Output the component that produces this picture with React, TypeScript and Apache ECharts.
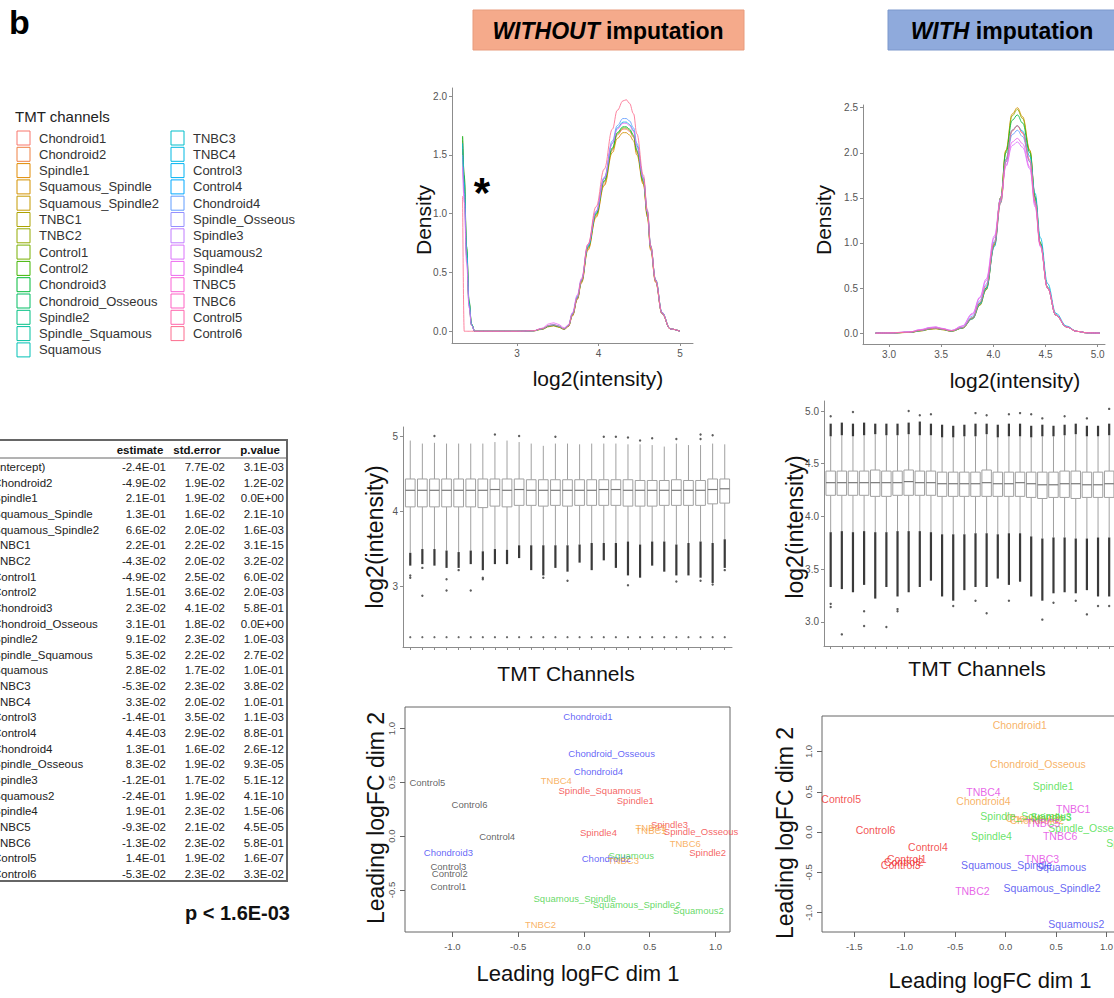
import React, { useEffect, useRef } from "react";
import * as echarts from "echarts";

const FONT = "'Liberation Sans', Arial, Helvetica, sans-serif";
const NARROW = "'Liberation Sans Narrow', 'Arial Narrow', 'Liberation Sans', Arial, sans-serif";

// ---------- channels / legend ----------
const channels = ["Chondroid1","Chondroid2","Spindle1","Squamous_Spindle","Squamous_Spindle2","TNBC1","TNBC2","Control1","Control2","Chondroid3","Chondroid_Osseous","Spindle2","Spindle_Squamous","Squamous","TNBC3","TNBC4","Control3","Control4","Chondroid4","Spindle_Osseous","Spindle3","Squamous2","Spindle4","TNBC5","TNBC6","Control5","Control6"];
const channelColors = ["#F8766D","#EE8044","#E18A00","#D39200","#C49A00","#ACA200","#93AA00","#77AF00","#40B500","#00BA38","#00BD62","#00C082","#00C19F","#00C0B5","#00BECB","#00B9E3","#00B2F3","#00A8FF","#619CFF","#9590FF","#C07DFF","#DB72FB","#EC69EF","#FA62D6","#FF61C3","#FF65AC","#FC6D8E"];

// ---------- regression table ----------
const tableTerms = ["(Intercept)","Chondroid2","Spindle1","Squamous_Spindle","Squamous_Spindle2","TNBC1","TNBC2","Control1","Control2","Chondroid3","Chondroid_Osseous","Spindle2","Spindle_Squamous","Squamous","TNBC3","TNBC4","Control3","Control4","Chondroid4","Spindle_Osseous","Spindle3","Squamous2","Spindle4","TNBC5","TNBC6","Control5","Control6"];
const tableEstimate = ["-2.4E-01","-4.9E-02","2.1E-01","1.3E-01","6.6E-02","2.2E-01","-4.3E-02","-4.9E-02","1.5E-01","2.3E-02","3.1E-01","9.1E-02","5.3E-02","2.8E-02","-5.3E-02","3.3E-02","-1.4E-01","4.4E-03","1.3E-01","8.3E-02","-1.2E-01","-2.4E-01","1.9E-01","-9.3E-02","-1.3E-02","1.4E-01","-5.3E-02"];
const tableStdError = ["7.7E-02","1.9E-02","1.9E-02","1.6E-02","2.0E-02","2.2E-02","2.0E-02","2.5E-02","3.6E-02","4.1E-02","1.8E-02","2.3E-02","2.2E-02","1.7E-02","2.3E-02","2.0E-02","3.5E-02","2.9E-02","1.6E-02","1.9E-02","1.7E-02","1.9E-02","2.3E-02","2.1E-02","2.3E-02","1.9E-02","2.3E-02"];
const tablePValue = ["3.1E-03","1.2E-02","0.0E+00","2.1E-10","1.6E-03","3.1E-15","3.2E-02","6.0E-02","2.0E-03","5.8E-01","0.0E+00","1.0E-03","2.7E-02","1.0E-01","3.8E-02","1.0E-01","1.1E-03","8.8E-01","2.6E-12","9.3E-05","5.1E-12","4.1E-10","1.5E-06","4.5E-05","5.8E-01","1.6E-07","3.3E-02"];

// ---------- density WITHOUT imputation ----------
const densXNo = [2.33,2.35,2.38,2.41,2.44,2.48,2.7,3.0,3.2,3.3,3.4,3.45,3.5,3.58,3.63,3.68,3.74,3.79,3.87,3.97,4.07,4.17,4.23,4.3,4.34,4.38,4.43,4.47,4.55,4.6,4.64,4.7,4.78,4.88,5.0];
const densNoChondroid1 = [1.62,1.28,0.68,0.24,0.06,0,0,0,0.004,0.02,0.045,0.05,0.04,0.02,0.045,0.14,0.28,0.42,0.7,0.98,1.25,1.54,1.67,1.72,1.72,1.7,1.65,1.52,1.26,0.98,0.7,0.42,0.15,0.02,0];
const densNoSquamousSpindle = [1.55,1.2,0.64,0.22,0.05,0,0,0,0.003,0.015,0.04,0.045,0.035,0.015,0.04,0.13,0.27,0.41,0.69,0.97,1.24,1.52,1.64,1.69,1.69,1.67,1.62,1.5,1.25,0.97,0.69,0.42,0.15,0.02,0];
const densNoTNBC2 = [1.66,1.32,0.7,0.25,0.06,0,0,0,0.004,0.018,0.045,0.05,0.04,0.018,0.045,0.14,0.28,0.42,0.71,0.99,1.27,1.55,1.68,1.73,1.73,1.71,1.66,1.53,1.27,0.99,0.71,0.43,0.15,0.02,0];
const densNoChondroid3 = [1.66,1.33,0.72,0.26,0.06,0,0,0,0.004,0.018,0.045,0.05,0.04,0.02,0.045,0.14,0.28,0.43,0.72,1.0,1.28,1.56,1.69,1.74,1.74,1.72,1.67,1.54,1.28,1.0,0.72,0.44,0.16,0.02,0];
const densNoTNBC4 = [1.6,1.27,0.68,0.24,0.06,0,0,0,0.004,0.02,0.05,0.055,0.045,0.02,0.05,0.15,0.29,0.43,0.72,1.01,1.3,1.6,1.73,1.78,1.78,1.76,1.71,1.58,1.3,1.02,0.73,0.44,0.16,0.02,0];
const densNoChondroid4 = [1.5,1.18,0.63,0.22,0.05,0,0,0,0.004,0.02,0.05,0.058,0.047,0.022,0.05,0.15,0.3,0.44,0.73,1.02,1.31,1.62,1.75,1.81,1.81,1.79,1.73,1.6,1.31,1.02,0.72,0.43,0.15,0.02,0];
const densNoSpindle4 = [1.4,1.1,0.58,0.2,0.05,0,0,0,0.005,0.025,0.065,0.072,0.06,0.03,0.055,0.16,0.31,0.45,0.74,1.02,1.3,1.6,1.72,1.77,1.77,1.75,1.7,1.57,1.3,1.01,0.72,0.44,0.16,0.02,0];
const densNoControl6 = [1.15,0,0,0,0,0,0,0,0.004,0.02,0.05,0.055,0.045,0.02,0.045,0.14,0.28,0.43,0.74,1.06,1.38,1.72,1.88,1.96,1.97,1.94,1.85,1.68,1.33,1.03,0.73,0.43,0.15,0.02,0];

// ---------- density WITH imputation ----------
const densXWith = [2.87,3.0,3.2,3.3,3.4,3.45,3.5,3.6,3.7,3.8,3.87,3.93,4.01,4.07,4.12,4.18,4.23,4.28,4.35,4.4,4.45,4.52,4.6,4.7,4.8,4.9,5.02];
const densWChondroid1 = [0,0.002,0.01,0.03,0.05,0.055,0.045,0.025,0.06,0.17,0.33,0.5,0.97,1.44,1.9,2.24,2.3,2.22,1.9,1.44,0.98,0.5,0.2,0.07,0.02,0.004,0];
const densWSquamousSpindle = [0,0.002,0.008,0.025,0.045,0.05,0.04,0.022,0.055,0.16,0.31,0.48,0.98,1.5,2.03,2.43,2.5,2.4,2.03,1.52,1.0,0.5,0.2,0.07,0.02,0.004,0];
const densWTNBC2 = [0,0.002,0.008,0.025,0.045,0.05,0.04,0.022,0.055,0.16,0.31,0.48,0.98,1.5,2.02,2.41,2.48,2.38,2.02,1.51,1.0,0.5,0.2,0.07,0.02,0.004,0];
const densWChondroid3 = [0,0.002,0.01,0.028,0.05,0.055,0.045,0.024,0.058,0.17,0.33,0.5,1.0,1.5,2.0,2.36,2.42,2.33,2.0,1.5,1.0,0.51,0.2,0.07,0.02,0.004,0];
const densWTNBC4 = [0,0.002,0.01,0.028,0.05,0.055,0.045,0.024,0.058,0.16,0.32,0.49,0.96,1.45,1.93,2.25,2.3,2.24,1.96,1.55,1.06,0.55,0.22,0.08,0.02,0.004,0];
const densWChondroid4 = [0,0.002,0.012,0.032,0.055,0.06,0.05,0.028,0.065,0.19,0.36,0.54,1.02,1.48,1.9,2.2,2.25,2.18,1.9,1.46,0.98,0.5,0.2,0.07,0.02,0.004,0];
const densWSquamous2 = [0,0.003,0.015,0.04,0.065,0.07,0.055,0.03,0.08,0.22,0.4,0.6,1.08,1.5,1.85,2.08,2.12,2.06,1.82,1.4,0.96,0.5,0.2,0.07,0.02,0.004,0];
const densWSpindle4 = [0,0.003,0.014,0.038,0.062,0.068,0.053,0.03,0.078,0.21,0.39,0.58,1.06,1.48,1.86,2.12,2.16,2.1,1.84,1.42,0.97,0.5,0.2,0.07,0.02,0.004,0];
const densWControl6 = [0,0.002,0.01,0.03,0.05,0.055,0.045,0.025,0.06,0.17,0.34,0.52,1.0,1.46,1.92,2.25,2.3,2.22,1.92,1.46,0.98,0.5,0.2,0.07,0.02,0.004,0];

// ---------- boxplots WITHOUT imputation ----------
const q1No = [4.06,4.06,4.06,4.06,4.06,4.06,4.05,4.07,4.06,4.08,4.08,4.07,4.08,4.07,4.08,4.08,4.08,4.08,4.07,4.07,4.07,4.08,4.08,4.08,4.08,4.1,4.11];
const medNo = [4.28,4.28,4.28,4.28,4.28,4.28,4.28,4.29,4.28,4.29,4.28,4.28,4.28,4.28,4.28,4.28,4.29,4.29,4.28,4.28,4.28,4.28,4.28,4.28,4.28,4.29,4.3];
const q3No = [4.43,4.43,4.43,4.43,4.43,4.43,4.43,4.43,4.43,4.43,4.42,4.42,4.42,4.42,4.42,4.42,4.42,4.42,4.42,4.41,4.41,4.41,4.42,4.41,4.41,4.43,4.43];
const whiskHiNo = [4.94,4.9,4.91,4.9,4.9,4.9,4.9,4.92,4.94,4.92,4.9,4.87,4.9,4.9,4.89,4.9,4.9,4.9,4.89,4.89,4.88,4.86,4.9,4.88,4.88,4.9,4.89];
const whiskLoNo = [3.45,3.5,3.5,3.48,3.46,3.48,3.47,3.5,3.49,3.55,3.55,3.55,3.55,3.55,3.56,3.58,3.58,3.58,3.6,3.56,3.6,3.6,3.56,3.58,3.6,3.58,3.63];
const bandLoNo = [3.28,3.3,3.28,3.25,3.25,3.3,3.22,3.3,3.3,3.38,3.22,3.15,3.25,3.2,3.32,3.22,3.35,3.25,3.15,3.12,3.28,3.2,3.15,3.15,3.12,3.05,3.25];
const floorNo = [2.33,2.33,2.33,2.33,2.33,2.33,2.33,2.33,2.33,2.33,2.33,2.33,2.33,2.33,2.33,2.33,2.33,2.33,2.33,2.33,2.33,2.33,2.33,2.33,2.33,2.33,2.33];
const outlierIdxNo = [1,1,2,2,4,4,5,6,7,7,12,14,19,23,25,26,27,3,8,10,13,17,18,19,20,21,25,25,26,23];
const outlierValNo = [3.15,3.12,3.25,2.88,3.1,2.95,3.22,2.95,3.12,3.1,3.12,3.08,3.02,3.07,3.08,3.03,3.22,5.0,5.02,5.0,4.99,4.99,4.99,4.98,4.94,4.97,5.02,4.96,5.01,4.96];

// ---------- boxplots WITH imputation ----------
const q1W = [4.2,4.2,4.2,4.2,4.19,4.19,4.2,4.2,4.2,4.2,4.19,4.19,4.19,4.19,4.19,4.19,4.19,4.19,4.18,4.17,4.18,4.18,4.17,4.18,4.18,4.18,4.18];
const medW = [4.32,4.32,4.32,4.32,4.32,4.32,4.32,4.33,4.32,4.32,4.31,4.31,4.31,4.31,4.32,4.31,4.31,4.32,4.31,4.3,4.3,4.31,4.31,4.3,4.3,4.31,4.31];
const q3W = [4.43,4.43,4.43,4.43,4.44,4.43,4.43,4.44,4.43,4.43,4.42,4.42,4.42,4.42,4.44,4.42,4.42,4.42,4.42,4.42,4.42,4.43,4.43,4.42,4.42,4.43,4.43];
const whiskHiW = [4.76,4.77,4.76,4.77,4.78,4.77,4.77,4.78,4.77,4.77,4.75,4.75,4.76,4.76,4.78,4.75,4.76,4.76,4.75,4.76,4.76,4.77,4.78,4.76,4.76,4.77,4.78];
const bandHiW = [4.88,4.89,4.88,4.89,4.88,4.88,4.88,4.89,4.9,4.88,4.87,4.86,4.87,4.88,4.88,4.87,4.88,4.88,4.86,4.87,4.86,4.87,4.88,4.86,4.86,4.88,4.9];
const whiskLoW = [3.85,3.86,3.85,3.86,3.85,3.85,3.86,3.86,3.86,3.85,3.83,3.83,3.83,3.84,3.84,3.83,3.84,3.84,3.81,3.79,3.8,3.8,3.79,3.79,3.8,3.8,3.8];
const bandLoW = [3.33,3.31,3.28,3.35,3.22,3.33,3.24,3.28,3.33,3.39,3.24,3.2,3.3,3.33,3.33,3.41,3.35,3.38,3.24,3.2,3.27,3.28,3.27,3.3,3.24,3.24,3.14];
const outlierIdxW = [1,1,2,4,4,6,7,7,12,14,15,17,20,21,23,24,25,26,27,1,3,8,9,10,14,15,17,18,19,20,22,24,26];
const outlierValW = [3.17,3.14,2.88,3.1,2.96,2.95,3.12,3.1,3.15,3.2,3.08,3.2,3.02,3.18,3.2,3.07,3.15,3.15,3.05,4.95,4.99,5.0,4.96,4.97,4.98,4.96,4.97,4.98,4.97,4.93,4.95,4.93,5.02];

// ---------- MDS WITHOUT imputation ----------
const mdsNoNames = ["Chondroid1","Chondroid_Osseous","Chondroid4","Chondroid3","Chondroid2","Spindle_Squamous","Spindle1","Spindle4","Spindle3","Spindle_Osseous","Spindle2","Squamous","Squamous_Spindle","Squamous_Spindle2","Squamous2","TNBC4","TNBC5","TNBC1","TNBC6","TNBC3","TNBC2","Control5","Control6","Control4","Control3","Control2","Control1"];
const mdsNoX = [0.03,0.21,0.11,-1.03,0.17,0.12,0.39,0.11,0.65,0.89,0.94,0.36,-0.07,0.40,0.87,-0.21,0.51,0.51,0.77,0.30,-0.33,-1.19,-0.87,-0.66,-1.03,-1.02,-1.03];
const mdsNoY = [1.11,0.77,0.60,-0.15,-0.21,0.42,0.33,0.03,0.11,0.04,-0.15,-0.18,-0.58,-0.63,-0.69,0.52,0.08,0.05,-0.07,-0.23,-0.82,0.50,0.29,-0.005,-0.28,-0.35,-0.47];
const mdsNoGroup = ["C","C","C","C","C","S","S","S","S","S","S","Q","Q","Q","Q","T","T","T","T","T","T","K","K","K","K","K","K"];

// ---------- MDS WITH imputation ----------
const mdsWNames = ["Chondroid1","Chondroid_Osseous","Chondroid4","Chondroid3","Chondroid2","Spindle1","Spindle_Squamous","Spindle3","Spindle_Osseous","Spindle4","Spindle2","TNBC4","TNBC1","TNBC5","TNBC6","TNBC3","TNBC2","Squamous_Spindle","Squamous","Squamous_Spindle2","Squamous2","Control5","Control6","Control4","Control1","Control2","Control3"];
const mdsWX = [0.14,0.32,-0.22,0.27,0.31,0.47,0.20,0.45,0.83,-0.14,1.2,-0.22,0.67,0.37,0.54,0.36,-0.33,0.01,0.55,0.46,0.70,-1.63,-1.29,-0.77,-0.98,-1.01,-1.04];
const mdsWY = [1.33,0.85,0.39,0.17,0.15,0.57,0.2,0.19,0.05,-0.05,-0.14,0.50,0.29,0.11,-0.05,-0.34,-0.73,-0.41,-0.43,-0.70,-1.14,0.41,0.03,-0.18,-0.33,-0.37,-0.41];
const mdsWGroup = ["C","C","C","C","C","S","S","S","S","S","S","T","T","T","T","T","T","Q","Q","Q","Q","K","K","K","K","K","K"];

const mdsNoColors = { C: "#3c3cf5", S: "#f23a3a", Q: "#3ecf3e", T: "#f7a040", K: "#3a3a3a" };
const mdsWColors = { C: "#f5a040", S: "#3fdc3f", Q: "#3c3cf0", T: "#e23ee2", K: "#f02828" };

const colorOf = (name: string) => channelColors[channels.indexOf(name)];
const channelPos = channels.map((_, i) => i + 1);

function gtext(x: number, y: number, text: string, o: any = {}) {
  const align = o.align || "left";
  const valign = o.valign || "middle";
  return {
    type: "text", x, y, rotation: o.rotation || 0, z: 100, silent: true,
    style: {
      text,
      fill: o.fill || "#000",
      font: `${o.fontStyle || "normal"} ${o.fontWeight || "normal"} ${o.fontSize || 12}px ${o.fontFamily || FONT}`,
      textAlign: align, textVerticalAlign: valign, align, verticalAlign: valign,
      rich: o.rich,
    },
  };
}

function ggAxis(gridIndex: number, min: number, max: number, ticks: number[], fmt: any, showLabels = true) {
  return {
    type: "value", gridIndex, min, max,
    axisLine: { show: true, onZero: false, lineStyle: { color: "#8c8c8c", width: 1 } },
    axisTick: { show: true, length: 3, customValues: ticks, lineStyle: { color: "#8c8c8c", width: 1 } },
    axisLabel: { show: showLabels, customValues: ticks, formatter: fmt, color: "#555", fontSize: 10, fontFamily: FONT, margin: 5 },
    splitLine: { show: false },
  };
}

function baseAxis(gridIndex: number, min: number, max: number, ticks: number[], isY: boolean) {
  return {
    type: "value", gridIndex, min, max,
    axisLine: { show: false, onZero: false },
    axisTick: { show: true, length: 5, customValues: ticks, lineStyle: { color: "#666", width: 1 } },
    axisLabel: { customValues: ticks, formatter: (v: number) => v.toFixed(1), color: "#555", fontSize: 9.5, fontFamily: FONT, margin: 9, rotate: isY ? 90 : 0 },
    splitLine: { show: false },
  };
}

function densitySeries(axis: number, xs: number[], curves: { name: string; y: number[] }[]) {
  return curves.map((c) => ({
    type: "line", xAxisIndex: axis, yAxisIndex: axis, silent: true,
    data: xs.map((x, i) => [x, c.y[i]]),
    smooth: 0.4, smoothMonotone: "x", showSymbol: false, symbol: "none",
    lineStyle: { color: colorOf(c.name), width: 1, opacity: 0.85 },
  }));
}

function boxSeries(axis: number, q1: number[], med: number[], q3: number[], lo: number[], hi: number[], widthFrac: number) {
  return {
    type: "custom", xAxisIndex: axis, yAxisIndex: axis, silent: true,
    data: channels.map((_, i) => [i + 1, lo[i], q1[i], med[i], q3[i], hi[i]]),
    encode: { x: 0, y: [1, 2, 3, 4, 5] },
    renderItem: (params: any, api: any) => {
      const x = api.value(0);
      const pLo = api.coord([x, api.value(1)]);
      const pQ1 = api.coord([x, api.value(2)]);
      const pMed = api.coord([x, api.value(3)]);
      const pQ3 = api.coord([x, api.value(4)]);
      const pHi = api.coord([x, api.value(5)]);
      const bw = api.size([widthFrac, 0])[0];
      const stroke = "#a0a0a0";
      return {
        type: "group",
        children: [
          { type: "line", shape: { x1: pLo[0], y1: pLo[1], x2: pQ1[0], y2: pQ1[1] }, style: { stroke, lineWidth: 1 } },
          { type: "line", shape: { x1: pQ3[0], y1: pQ3[1], x2: pHi[0], y2: pHi[1] }, style: { stroke, lineWidth: 1 } },
          { type: "rect", shape: { x: pQ1[0] - bw / 2, y: pQ3[1], width: bw, height: pQ1[1] - pQ3[1] }, style: { fill: "#fff", stroke, lineWidth: 1 } },
          { type: "line", shape: { x1: pMed[0] - bw / 2, y1: pMed[1], x2: pMed[0] + bw / 2, y2: pMed[1] }, style: { stroke: "#777", lineWidth: 1.2 } },
        ],
      };
    },
  };
}

function bandSeries(axis: number, lo: number[], hi: number[]) {
  return {
    type: "custom", xAxisIndex: axis, yAxisIndex: axis, silent: true,
    data: channels.map((_, i) => [i + 1, lo[i], hi[i]]),
    encode: { x: 0, y: [1, 2] },
    renderItem: (params: any, api: any) => {
      const x = api.value(0);
      const p0 = api.coord([x, api.value(1)]);
      const p1 = api.coord([x, api.value(2)]);
      return { type: "rect", shape: { x: p1[0] - 1.1, y: p1[1], width: 2.2, height: p0[1] - p1[1] }, style: { fill: "#3a3a3a" } };
    },
  };
}

function pointSeries(axis: number, idx: number[], vals: number[], size: number, color: string) {
  return {
    type: "scatter", xAxisIndex: axis, yAxisIndex: axis, silent: true,
    symbol: "circle", symbolSize: size, itemStyle: { color },
    data: idx.map((x, i) => [x, vals[i]]),
  };
}

function mdsSeries(axis: number, names: string[], xs: number[], ys: number[], groups: string[], colors: any, fontSize: number) {
  const keys = Object.keys(colors);
  return keys.map((k) => ({
    type: "scatter", xAxisIndex: axis, yAxisIndex: axis, silent: true,
    symbolSize: 0, itemStyle: { color: "transparent" },
    label: { show: true, position: "inside", formatter: "{b}", color: colors[k], fontSize, fontFamily: NARROW },
    data: names.map((n, i) => ({ n, i })).filter((d) => groups[d.i] === k).map((d) => ({ name: d.n, value: [xs[d.i], ys[d.i]] })),
  }));
}

function buildOption() {
  const g: any[] = [];
  g.push(gtext(9, 22, "b", { fontSize: 34, fontWeight: "bold" }));
  g.push({ type: "rect", shape: { x: 473, y: 10, width: 271, height: 40 }, style: { fill: "#F5AA8B", stroke: "#E89B7C", lineWidth: 1 }, z: 50, silent: true });
  g.push(gtext(608, 31, "{i|WITHOUT} imputation", { align: "center", fontSize: 23, fontWeight: "bold", rich: { i: { fontStyle: "italic", fontWeight: "bold", fontSize: 23, fontFamily: FONT, fill: "#000" } } }));
  g.push({ type: "rect", shape: { x: 888, y: 10, width: 240, height: 40 }, style: { fill: "#8FAADC", stroke: "#7C98CC", lineWidth: 1 }, z: 50, silent: true });
  g.push(gtext(1002, 31, "{i|WITH} imputation", { align: "center", fontSize: 23, fontWeight: "bold", rich: { i: { fontStyle: "italic", fontWeight: "bold", fontSize: 23, fontFamily: FONT, fill: "#000" } } }));

  g.push(gtext(15, 116, "TMT channels", { fontSize: 15, fill: "#222" }));
  channels.forEach((c, i) => {
    const col = i < 14 ? 0 : 1;
    const row = i < 14 ? i : i - 14;
    const bx = col === 0 ? 17 : 171;
    const cy = 138 + row * 16.3;
    g.push({ type: "rect", shape: { x: bx, y: cy - 7, width: 13, height: 14 }, style: { fill: "#fff", stroke: channelColors[i], lineWidth: 1 }, z: 50, silent: true });
    g.push(gtext(bx + 22, cy, c, { fontSize: 13, fill: "#333" }));
  });

  g.push({ type: "polyline", shape: { points: [[0, 440], [287, 440], [287, 881], [0, 881]] }, style: { stroke: "#666", lineWidth: 2, fill: null }, z: 50, silent: true });
  g.push({ type: "line", shape: { x1: 0, y1: 458, x2: 287, y2: 458 }, style: { stroke: "#666", lineWidth: 1 }, z: 50, silent: true });
  g.push(gtext(140, 450, "estimate", { align: "center", fontSize: 11.5, fontWeight: "bold", fill: "#111" }));
  g.push(gtext(197, 450, "std.error", { align: "center", fontSize: 11.5, fontWeight: "bold", fill: "#111" }));
  g.push(gtext(260, 450, "p.value", { align: "center", fontSize: 11.5, fontWeight: "bold", fill: "#111" }));
  tableTerms.forEach((t, i) => {
    const y = 467 + i * 15.65;
    g.push(gtext(-7, y, t, { fontSize: 11.5, fill: "#222" }));
    g.push(gtext(166, y, tableEstimate[i], { align: "right", fontSize: 11.5, fill: "#222" }));
    g.push(gtext(225, y, tableStdError[i], { align: "right", fontSize: 11.5, fill: "#222" }));
    g.push(gtext(284, y, tablePValue[i], { align: "right", fontSize: 11.5, fill: "#222" }));
  });
  g.push(gtext(290, 913, "p < 1.6E-03", { align: "right", fontSize: 20, fontWeight: "bold", fill: "#111" }));

  g.push(gtext(423, 220, "Density", { align: "center", rotation: Math.PI / 2, fontSize: 21, fill: "#111" }));
  g.push(gtext(598, 378, "log2(intensity)", { align: "center", fontSize: 21, fill: "#111" }));
  g.push(gtext(823, 220, "Density", { align: "center", rotation: Math.PI / 2, fontSize: 21, fill: "#111" }));
  g.push(gtext(1015, 380, "log2(intensity)", { align: "center", fontSize: 21, fill: "#111" }));
  g.push(gtext(482, 192, "*", { align: "center", fontSize: 42, fontWeight: "bold", fill: "#000" }));

  g.push(gtext(375, 537, "log2(intensity)", { align: "center", rotation: Math.PI / 2, fontSize: 23, fill: "#111" }));
  g.push(gtext(566, 673, "TMT Channels", { align: "center", fontSize: 21, fill: "#111" }));
  g.push(gtext(795, 527, "log2(intensity)", { align: "center", rotation: Math.PI / 2, fontSize: 23, fill: "#111" }));
  g.push(gtext(977, 668, "TMT Channels", { align: "center", fontSize: 21, fill: "#111" }));

  g.push(gtext(376, 818, "Leading logFC dim 2", { align: "center", rotation: Math.PI / 2, fontSize: 23, fill: "#111" }));
  g.push(gtext(578, 973, "Leading logFC dim 1", { align: "center", fontSize: 22, fill: "#111" }));
  g.push(gtext(785, 833, "Leading logFC dim 2", { align: "center", rotation: Math.PI / 2, fontSize: 23, fill: "#111" }));
  g.push(gtext(990, 980, "Leading logFC dim 1", { align: "center", fontSize: 22, fill: "#111" }));

  const fmt1 = (v: number) => v.toFixed(1);
  const fmt0 = (v: number) => String(v);

  const grids = [
    { left: 452, top: 88, width: 241, height: 255 },
    { left: 863, top: 105, width: 242, height: 239 },
    { left: 403, top: 427, width: 329, height: 220 },
    { left: 824, top: 401, width: 303, height: 245 },
    { left: 405, top: 707, width: 325, height: 225, show: true, borderColor: "#666", borderWidth: 1 },
    { left: 822, top: 716, width: 335, height: 216, show: true, borderColor: "#666", borderWidth: 1 },
  ].map((gr: any) => ({ ...gr, containLabel: false, outerBoundsMode: "none" }));

  const xAxis = [
    ggAxis(0, 2.2, 5.16, [3, 4, 5], fmt0),
    ggAxis(1, 2.75, 5.07, [3, 3.5, 4, 4.5, 5], fmt1),
    ggAxis(2, 0.4, 27.6, channelPos, fmt0, false),
    ggAxis(3, 0.4, 27.6, channelPos, fmt0, false),
    baseAxis(4, -1.36, 1.11, [-1, -0.5, 0, 0.5, 1], false),
    baseAxis(5, -1.82, 1.5, [-1.5, -1, -0.5, 0, 0.5, 1, 1.5], false),
  ];
  const yAxis = [
    ggAxis(0, -0.1, 2.07, [0, 0.5, 1, 1.5, 2], fmt1),
    ggAxis(1, -0.12, 2.53, [0, 0.5, 1, 1.5, 2, 2.5], fmt1),
    ggAxis(2, 2.2, 5.12, [3, 4, 5], fmt0),
    ggAxis(3, 2.77, 5.095, [3, 3.5, 4, 4.5, 5], fmt1),
    baseAxis(4, -0.89, 1.2, [-0.5, 0, 0.5, 1], true),
    baseAxis(5, -1.24, 1.44, [-1, -0.5, 0, 0.5, 1], true),
  ];

  const series: any[] = [
    ...densitySeries(0, densXNo, [
      { name: "Chondroid1", y: densNoChondroid1 },
      { name: "Squamous_Spindle", y: densNoSquamousSpindle },
      { name: "TNBC2", y: densNoTNBC2 },
      { name: "Chondroid3", y: densNoChondroid3 },
      { name: "TNBC4", y: densNoTNBC4 },
      { name: "Chondroid4", y: densNoChondroid4 },
      { name: "Spindle4", y: densNoSpindle4 },
      { name: "Control6", y: densNoControl6 },
    ]),
    ...densitySeries(1, densXWith, [
      { name: "Chondroid1", y: densWChondroid1 },
      { name: "Squamous_Spindle", y: densWSquamousSpindle },
      { name: "TNBC2", y: densWTNBC2 },
      { name: "Chondroid3", y: densWChondroid3 },
      { name: "TNBC4", y: densWTNBC4 },
      { name: "Chondroid4", y: densWChondroid4 },
      { name: "Squamous2", y: densWSquamous2 },
      { name: "Spindle4", y: densWSpindle4 },
      { name: "Control6", y: densWControl6 },
    ]),
    boxSeries(2, q1No, medNo, q3No, whiskLoNo, whiskHiNo, 0.8),
    bandSeries(2, bandLoNo, whiskLoNo),
    pointSeries(2, channelPos, floorNo, 2.2, "#444"),
    pointSeries(2, outlierIdxNo, outlierValNo, 2.4, "#333"),
    boxSeries(3, q1W, medW, q3W, whiskLoW, whiskHiW, 0.85),
    bandSeries(3, bandLoW, whiskLoW),
    bandSeries(3, whiskHiW, bandHiW),
    pointSeries(3, outlierIdxW, outlierValW, 2.4, "#333"),
    ...mdsSeries(4, mdsNoNames, mdsNoX, mdsNoY, mdsNoGroup, mdsNoColors, 9.5),
    ...mdsSeries(5, mdsWNames, mdsWX, mdsWY, mdsWGroup, mdsWColors, 10.5),
  ];

  return {
    animation: false,
    backgroundColor: "#ffffff",
    textStyle: { fontFamily: FONT },
    grid: grids,
    xAxis,
    yAxis,
    series,
    graphic: { elements: g },
  };
}

export default function App() {
  const ref = useRef<HTMLDivElement>(null);
  useEffect(() => {
    if (!ref.current) return;
    const chart = echarts.init(ref.current, null, { renderer: "svg" });
    chart.setOption(buildOption() as any);
    return () => chart.dispose();
  }, []);
  return (
    <div
      ref={ref}
      style={{ position: "absolute", left: 0, top: 0, width: 1114, height: 998, background: "#fff", overflow: "hidden" }}
    />
  );
}
